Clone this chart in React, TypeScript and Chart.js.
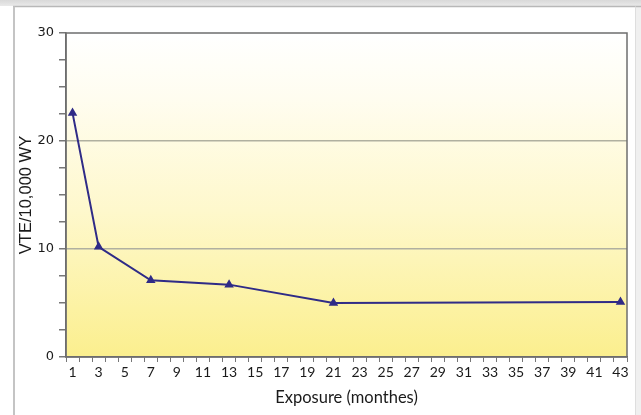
import React, { useEffect, useRef } from "react";
import { Chart, registerables } from "chart.js";

Chart.register(...registerables);

const monthLabels = [
  "1", "2", "3", "4", "5", "6", "7", "8", "9", "10", "11", "12", "13", "14", "15",
  "16", "17", "18", "19", "20", "21", "22", "23", "24", "25", "26", "27", "28", "29",
  "30", "31", "32", "33", "34", "35", "36", "37", "38", "39", "40", "41", "42", "43",
];
const exposureMonths = ["1", "3", "7", "13", "21", "43"];
const vteRate = [22.6, 10.2, 7.1, 6.7, 5.0, 5.1];
const yTickLabels = [0, 10, 20, 30];

const framePlugin = {
  id: "frame",
  beforeDraw(chart: any) {
    const { ctx, width, height, chartArea } = chart;
    ctx.save();
    ctx.fillStyle = "#ffffff";
    ctx.fillRect(0, 0, width, height);
    const g = ctx.createLinearGradient(0, 0, 0, 7);
    g.addColorStop(0, "#d9d9d9");
    g.addColorStop(1, "#ececec");
    ctx.fillStyle = g;
    ctx.fillRect(0, 0, width, 6);
    ctx.fillStyle = "#f0f0f0";
    ctx.fillRect(636, 6, width - 636, height - 6);
    ctx.strokeStyle = "#b8b8b8";
    ctx.lineWidth = 1.5;
    ctx.beginPath();
    ctx.moveTo(13, 6.5);
    ctx.lineTo(width, 6.5);
    ctx.stroke();
    ctx.strokeStyle = "#c4c4c4";
    ctx.lineWidth = 2;
    ctx.beginPath();
    ctx.moveTo(14, 6.5);
    ctx.lineTo(14, height);
    ctx.stroke();
    ctx.strokeStyle = "#dedede";
    ctx.lineWidth = 1;
    ctx.beginPath();
    ctx.moveTo(635.5, 6.5);
    ctx.lineTo(635.5, height);
    ctx.stroke();
    // plot background gradient
    const { left, top, right, bottom } = chartArea;
    const pg = ctx.createLinearGradient(0, top, 0, bottom);
    pg.addColorStop(0, "#ffffff");
    pg.addColorStop(0.2, "#fffdf0");
    pg.addColorStop(0.55, "#fef8cc");
    pg.addColorStop(1, "#fbef8e");
    ctx.fillStyle = pg;
    ctx.fillRect(left, top, right - left, bottom - top);
    ctx.restore();
  },
  afterDatasetsDraw(chart: any) {
    const { ctx, chartArea } = chart;
    const { left, top, right, bottom } = chartArea;
    ctx.save();
    ctx.strokeStyle = "#6e6e6e";
    ctx.lineWidth = 1.5;
    ctx.strokeRect(left, top, right - left, bottom - top);
    ctx.restore();
  },
};

export default function App() {
  const ref = useRef<HTMLCanvasElement>(null);
  useEffect(() => {
    if (!ref.current) return;
    const chart = new Chart(ref.current, {
      type: "line",
      data: {
        labels: monthLabels,
        datasets: [
          {
            data: exposureMonths.map((m, i) => ({ x: m, y: vteRate[i] })),
            borderColor: "#2f2b87",
            backgroundColor: "#2f2b87",
            borderWidth: 2,
            pointStyle: "triangle",
            pointRadius: 3.5,
            pointHoverRadius: 3.5,
            tension: 0,
            fill: false,
          },
        ],
      },
      options: {
        responsive: false,
        animation: false,
        layout: { padding: { left: 0, top: 33, right: 14, bottom: 0 } },
        plugins: {
          legend: { display: false },
          tooltip: { enabled: false },
        },
        scales: {
          x: {
            type: "category",
            offset: true,
            afterFit: (s: any) => {
              s.height = 58;
            },
            grid: {
              offset: true,
              drawOnChartArea: false,
              drawTicks: true,
              tickLength: 5,
              tickColor: "#777",
              tickWidth: 1,
            },
            border: { display: true, color: "#6e6e6e", width: 1.5 },
            ticks: {
              autoSkip: false,
              maxRotation: 0,
              minRotation: 0,
              padding: 2,
              color: "#1a1a1a",
              font: { family: "Lato", size: 14 },
              callback: (_v: any, i: number) => (i % 2 === 0 ? monthLabels[i] : ""),
            },
            title: {
              display: true,
              text: "Exposure (monthes)",
              color: "#1a1a1a",
              font: { family: "Lato", size: 16.5 },
              padding: { top: 0, bottom: 7 },
            },
          },
          y: {
            min: 0,
            max: 30,
            afterFit: (s: any) => {
              s.width = 66;
            },
            grid: {
              color: (c: any) =>
                c.tick && (c.tick.value === 10 || c.tick.value === 20) ? "#b0b0a0" : "rgba(0,0,0,0)",
              lineWidth: 1.5,
              tickLength: 7,
              tickColor: "#777",
              drawTicks: true,
            },
            border: { display: true, color: "#6e6e6e", width: 1.5 },
            ticks: {
              stepSize: 2.5,
              autoSkip: false,
              padding: 5,
              color: "#1a1a1a",
              font: { family: "DejaVu Sans", size: 13 },
              callback: (v: any) => (yTickLabels.includes(v) ? String(v) : ""),
            },
            title: {
              display: true,
              text: "VTE/10,000 WY",
              color: "#1a1a1a",
              font: { family: "Liberation Sans", size: 16.5 },
              padding: { top: 17, bottom: 0 },
            },
          },
        },
      },
      plugins: [framePlugin],
    } as any);
    return () => chart.destroy();
  }, []);
  return (
    <div style={{ position: "fixed", left: 0, top: 0, width: 641, height: 415 }}>
      <canvas ref={ref} width={641} height={415} style={{ display: "block" }} />
    </div>
  );
}
